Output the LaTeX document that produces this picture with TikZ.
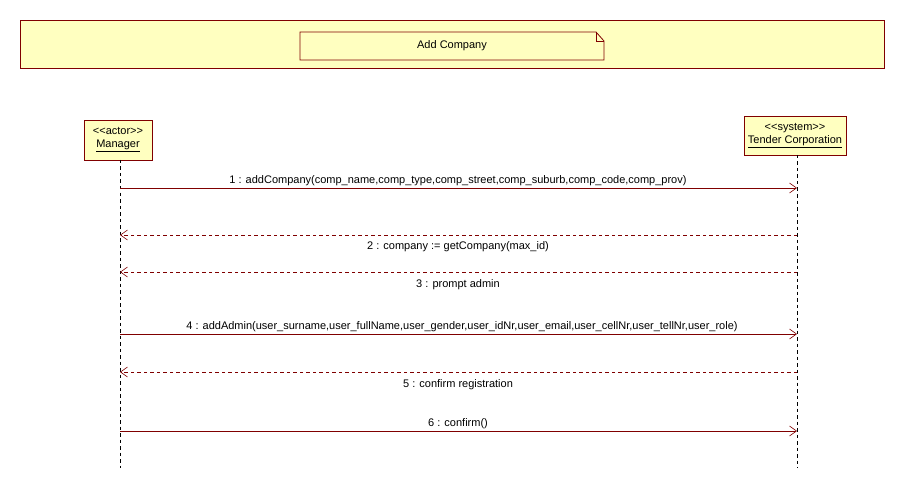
\documentclass[tikz,border=0pt]{standalone}
\usepackage{fontspec}
\setmainfont{Liberation Sans}
\usetikzlibrary{arrows.meta}
\definecolor{umlfill}{HTML}{FFFFC0}
\definecolor{umlline}{HTML}{800000}
\tikzset{
  lbl/.style={font=\fontsize{11}{13}\selectfont, inner sep=0pt},
  msg/.style={draw=umlline, line width=0.8pt, -{Straight Barb[length=7pt,width=10pt,line width=0.6pt]}},
  reply/.style={msg, dash pattern=on 3.5pt off 3pt},
  lifeline/.style={draw=black, line width=0.8pt, dash pattern=on 3.5pt off 3pt},
  objbox/.style={draw=umlline, fill=umlfill, line width=0.8pt, align=center, inner sep=0pt, font=\fontsize{11}{13}\selectfont},
}
\begin{document}
\begin{tikzpicture}[x=1pt,y=-1pt]
\useasboundingbox (0,0) rectangle (904,489);
% frame
\node[draw=umlline, fill=umlfill, line width=0.8pt, minimum width=864pt, minimum height=48pt, inner sep=0pt] (frame) at (452,44) {};
% note
\draw[draw=umlline, fill=umlfill, line width=0.8pt] (300,32) -- (596,32) -- (604,41) -- (604,60) -- (300,60) -- cycle;
\draw[draw=umlline, line width=0.6pt] (596,32) -- (596,41) -- (604,41);
\node[lbl] (title) at (452,45.5) {Add Company};
% objects
\node[objbox, minimum width=68pt, minimum height=40pt] (mgr) at (118,140) {<{}<actor>{}>\\\underline{Manager}};
\node[objbox, minimum width=102pt, minimum height=39pt] (sys) at (795,135.5) {<{}<system>{}>\\\underline{Tender Corporation}};
% lifelines
\coordinate (mgrEnd) at (120,468);
\coordinate (sysEnd) at (797,468);
\draw[lifeline] (120,160) -- (mgrEnd);
\draw[lifeline] (797,155) -- (sysEnd);
% messages
\coordinate (m1a) at (120,188); \coordinate (m1b) at (797,188);
\coordinate (m2a) at (797,235); \coordinate (m2b) at (120,235);
\coordinate (m3a) at (797,272); \coordinate (m3b) at (120,272);
\coordinate (m4a) at (120,334); \coordinate (m4b) at (797,334);
\coordinate (m5a) at (797,372); \coordinate (m5b) at (120,372);
\coordinate (m6a) at (120,431); \coordinate (m6b) at (797,431);
\draw[msg] (m1a) -- (m1b);
\draw[reply] (m2a) -- (m2b);
\draw[reply] (m3a) -- (m3b);
\draw[msg] (m4a) -- (m4b);
\draw[reply] (m5a) -- (m5b);
\draw[msg] (m6a) -- (m6b);
\node[lbl] (l1) at (458,181) {1 : addCompany(comp\_name,comp\_type,comp\_street,comp\_suburb,comp\_code,comp\_prov)};
\node[lbl] (l2) at (458,247) {2 : company := getCompany(max\_id)};
\node[lbl] (l3) at (458,285) {3 : prompt admin};
\node[lbl] (l4) at (462,327) {4 : addAdmin(user\_surname,user\_fullName,user\_gender,user\_idNr,user\_email,user\_cellNr,user\_tellNr,user\_role)};
\node[lbl] (l5) at (458,385) {5 : confirm registration};
\node[lbl] (l6) at (458,424) {6 : confirm()};
\end{tikzpicture}
\end{document}
